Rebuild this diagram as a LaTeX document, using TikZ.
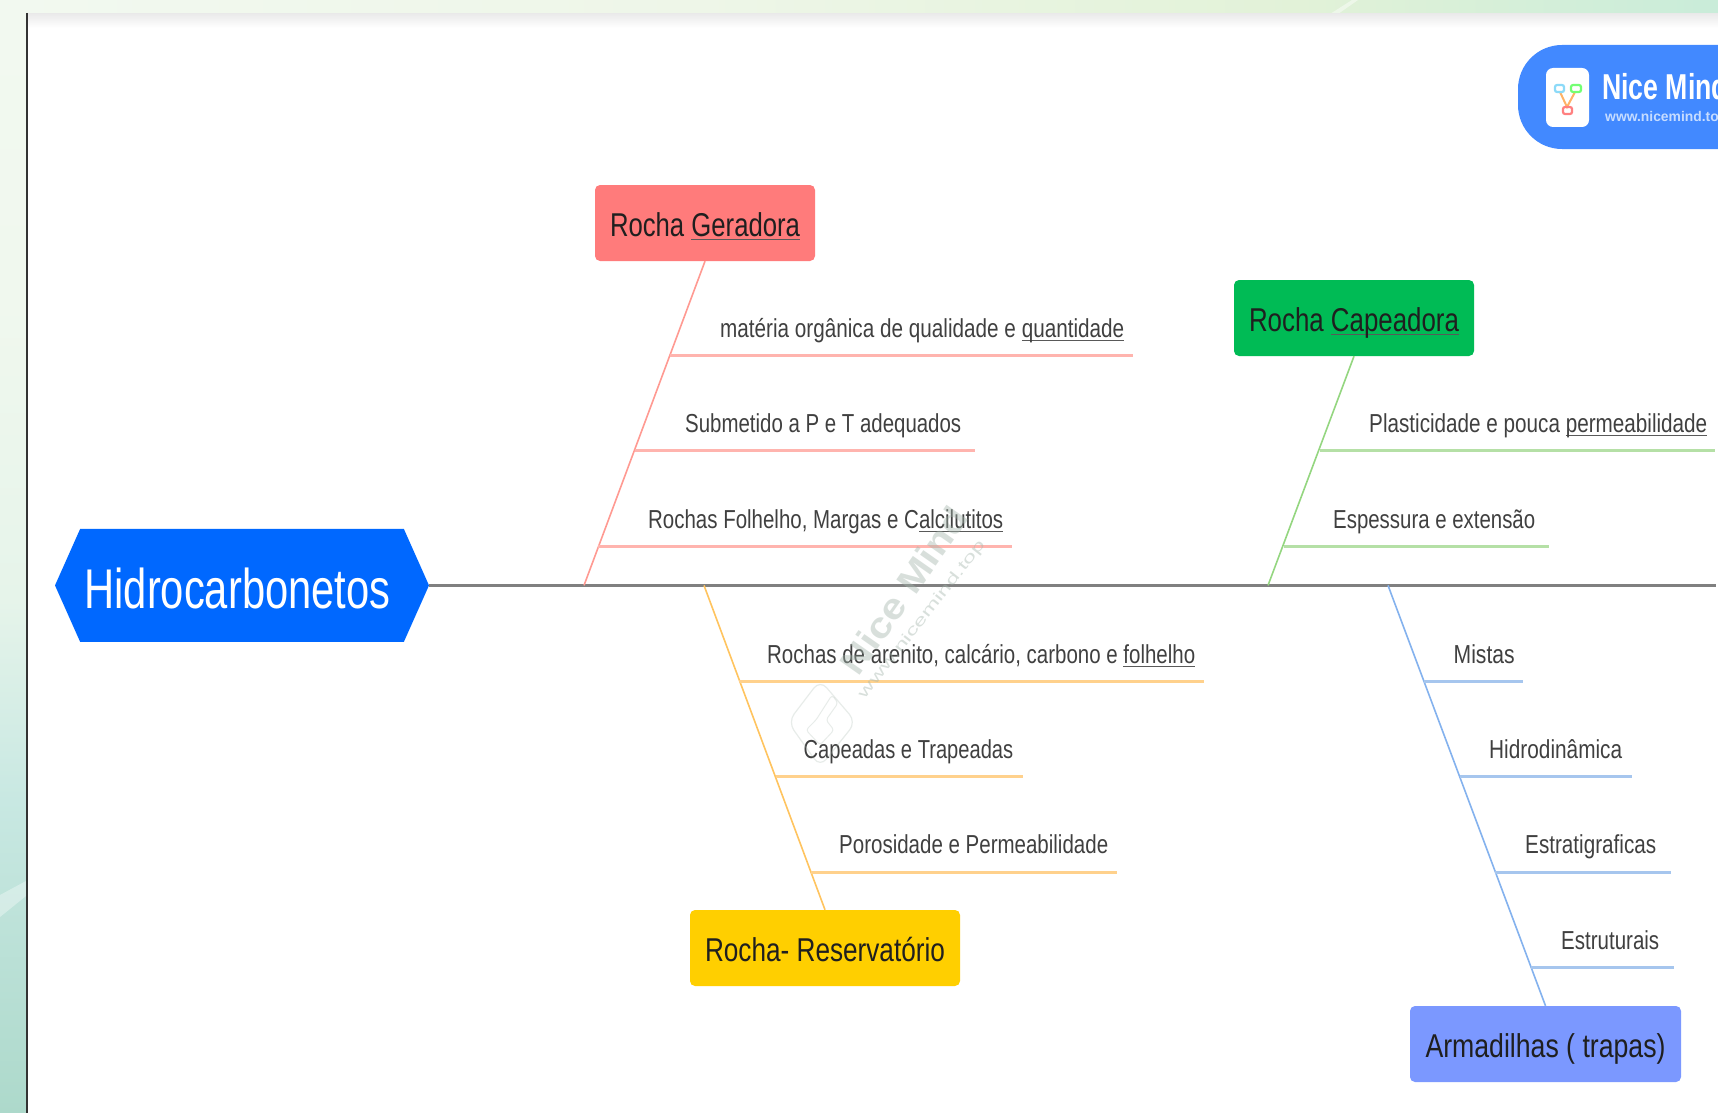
\documentclass[tikz,border=0pt]{standalone}
\usepackage{fontspec}
\usepackage{graphicx}
\usetikzlibrary{shapes.symbols}
\setmainfont{Liberation Sans}
\definecolor{spine}{HTML}{808080}
\definecolor{redbox}{HTML}{FF7B7B}\definecolor{redbr}{HTML}{FF9A92}\definecolor{redtw}{HTML}{FFB4AE}
\definecolor{grnbox}{HTML}{00BB55}\definecolor{grnbr}{HTML}{94D680}\definecolor{grntw}{HTML}{B5E0A6}
\definecolor{orgbox}{HTML}{FFCF00}\definecolor{orgbr}{HTML}{FFC45F}\definecolor{orgtw}{HTML}{FFD18C}
\definecolor{blubox}{HTML}{7B98FF}\definecolor{blubr}{HTML}{84B2EE}\definecolor{blutw}{HTML}{A6C6EE}
\definecolor{hexblue}{HTML}{0068FF}\definecolor{logoblue}{HTML}{4289FF}
\definecolor{txtgray}{HTML}{404040}\definecolor{wmark}{HTML}{A3B5AB}
\definecolor{bga}{HTML}{F2F9F0}\definecolor{bgb}{HTML}{F0F8EE}\definecolor{bgc}{HTML}{E6F4EA}
\definecolor{bgd}{HTML}{C8E8E2}\definecolor{bge}{HTML}{ADD9CB}
\definecolor{bgt}{HTML}{EEF6E8}\definecolor{bgu}{HTML}{E2F2D8}\definecolor{bgv}{HTML}{C9ECD9}
\newcommand{\fitw}[2]{\resizebox{#1pt}{\height}{#2}}
\newcommand{\spellul}[1]{\setbox0\hbox{#1}\rlap{\color{black!65}\rule[-4pt]{\wd0}{1pt}}\box0}
\tikzset{
  x=1pt,y=-1pt,
  branchbox/.style={rectangle,rounded corners=5pt,inner sep=0pt,font=\fontsize{33}{33}\selectfont,text=black!88,
     text height=51pt,text depth=25pt,minimum width=#1},
  leaf/.style={anchor=base west,inner sep=0pt,font=\fontsize{26}{26}\selectfont,text=txtgray},
  branch/.style={line width=1.6pt},
  twig/.style={line width=3pt},
}
\begin{document}
\begin{tikzpicture}
\useasboundingbox (0,0) rectangle (1718,1113);
% page background
\shade[top color=bga,bottom color=bgb] (0,0) rectangle (26,300);
\shade[top color=bgb,bottom color=bgc] (0,300) rectangle (26,600);
\shade[top color=bgc,bottom color=bgd] (0,600) rectangle (26,800);
\shade[top color=bgd,bottom color=bge] (0,800) rectangle (26,1113);
\fill[white,opacity=.35] (0,917) -- (26,896) -- (26,881) -- (0,895) -- cycle;
\shade[left color=bga,right color=bgt] (0,0) rectangle (700,14);
\shade[left color=bgt,right color=bgu] (700,0) rectangle (1300,14);
\shade[left color=bgu,right color=bgv] (1300,0) rectangle (1718,14);
\fill[white,opacity=.45] (1330,14) -- (1352,0) -- (1358,0) -- (1338,14) -- cycle;
% sheet
\fill[white] (26,14) rectangle (1718,1113);
\shade[top color=black!8,bottom color=white] (27,14) rectangle (1718,28);
\draw[black!80,line width=2pt] (26.5,13) -- (26.5,1113);
% logo
\begin{scope}
\clip (0,0) rectangle (1718,1113);
\fill[logoblue,rounded corners=44pt] (1518,45) rectangle (1800,149);
\fill[white,rounded corners=7pt] (1546,68) rectangle (1589,127);
\draw[orange!60,line width=2pt] (1560,92) -- (1567,107) -- (1575,92);
\draw[cyan!45,line width=2.2pt,rounded corners=2pt] (1555,85) rectangle (1564,92);
\draw[green!55,line width=2.2pt,rounded corners=2pt] (1571,85) rectangle (1581,92);
\draw[red!50,line width=2.2pt,rounded corners=2pt] (1563,107) rectangle (1572,114);
\node[anchor=base west,inner sep=0pt,text=white,font=\bfseries\fontsize{36}{36}\selectfont] (logotxt) at (1602,100) {\fitw{126}{Nice Mind}};
\node[anchor=base west,inner sep=0pt,text=white!70!logoblue,font=\bfseries\fontsize{14}{14}\selectfont] (logourl) at (1605,122) {\fitw{122}{www.nicemind.top}};
\end{scope}
% head
\node[signal,signal to=east and west,signal pointer angle=132,fill=hexblue,inner sep=0pt,minimum width=374pt,minimum height=113pt,
      text=white,font=\fontsize{56}{56}\selectfont,text height=80pt,text depth=33pt] (head) at (242,585.4) {\kern-9pt\fitw{306}{Hidrocarbonetos}};
\coordinate (tail) at (1716,585.4);
\draw[spine,line width=3.6pt] (head.east) -- (tail);
% branch boxes
\node[branchbox=220pt,fill=redbox] (rg) at (705,223) {\fitw{190}{Rocha \spellul{Geradora}}};
\node[branchbox=240pt,fill=grnbox] (rc) at (1354,318) {\fitw{210}{Rocha \spellul{Capeadora}}};
\node[branchbox=270pt,fill=orgbox] (rr) at (825,948) {\fitw{240}{Rocha- Reservatório}};
\node[branchbox=271pt,fill=blubox] (ar) at (1545.5,1044) {\fitw{240}{Armadilhas ( trapas)}};
% spine joints
\coordinate (jr) at (584,585.4);
\coordinate (jg) at (1268,585.4);
\coordinate (jo) at (704,585.4);
\coordinate (jb) at (1388,585.4);
\draw[branch,redbr] (rg.south) -- (jr);
\draw[branch,grnbr] (rc.south) -- (jg);
\draw[branch,orgbr] (jo) -- (rr.north);
\draw[branch,blubr] (jb) -- (ar.north);
% red leaves
\node[leaf] (r1) at (720,337) {\fitw{404}{matéria orgânica de qualidade e \spellul{quantidade}}};
\node[leaf] (r2) at (685,432) {\fitw{276}{Submetido a P e T adequados}};
\node[leaf] (r3) at (648,528) {\fitw{355}{Rochas Folhelho, Margas e C\spellul{alcilutitos}}};
\coordinate (r1a) at (670,355);\coordinate (r1b) at (1133,355);
\coordinate (r2a) at (635,450.5);\coordinate (r2b) at (975,450.5);
\coordinate (r3a) at (598,546);\coordinate (r3b) at (1011.5,546);
\draw[twig,redtw] (r1a) -- (r1b);
\draw[twig,redtw] (r2a) -- (r2b);
\draw[twig,redtw] (r3a) -- (r3b);
% green leaves
\node[leaf] (g1) at (1369,432) {\fitw{338}{Plasticidade e pouca \spellul{permeabilidade}}};
\node[leaf] (g2) at (1333,528) {\fitw{202}{Espessura e extensão}};
\coordinate (g1a) at (1320,450.5);\coordinate (g1b) at (1715,450.5);
\coordinate (g2a) at (1284,546);\coordinate (g2b) at (1549,546);
\draw[twig,grntw] (g1a) -- (g1b);
\draw[twig,grntw] (g2a) -- (g2b);
% orange leaves
\node[leaf] (o1) at (767,663) {\fitw{428}{Rochas de arenito, calcário, carbono e \spellul{folhelho}}};
\node[leaf] (o2) at (803.5,758.5) {\fitw{209.5}{Capeadas e Trapeadas}};
\node[leaf] (o3) at (839,853.5) {\fitw{269}{Porosidade e Permeabilidade}};
\coordinate (o1a) at (739,681);\coordinate (o1b) at (1204,681);
\coordinate (o2a) at (776,776.5);\coordinate (o2b) at (1022.5,776.5);
\coordinate (o3a) at (811,872);\coordinate (o3b) at (1117,872);
\draw[twig,orgtw] (o1a) -- (o1b);
\draw[twig,orgtw] (o2a) -- (o2b);
\draw[twig,orgtw] (o3a) -- (o3b);
% blue leaves
\node[leaf] (b1) at (1453.5,663) {\fitw{61}{Mistas}};
\node[leaf] (b2) at (1489,758.5) {\fitw{133}{Hidrodinâmica}};
\node[leaf] (b3) at (1525,853.5) {\fitw{131}{Estratigraficas}};
\node[leaf] (b4) at (1561,949) {\fitw{98}{Estruturais}};
\coordinate (b1a) at (1424,681);\coordinate (b1b) at (1523,681);
\coordinate (b2a) at (1460,776.5);\coordinate (b2b) at (1631.5,776.5);
\coordinate (b3a) at (1495,872);\coordinate (b3b) at (1671,872);
\coordinate (b4a) at (1531,967.5);\coordinate (b4b) at (1674,967.5);
\draw[twig,blutw] (b1a) -- (b1b);
\draw[twig,blutw] (b2a) -- (b2b);
\draw[twig,blutw] (b3a) -- (b3b);
\draw[twig,blutw] (b4a) -- (b4b);
% watermark
\begin{scope}[opacity=.42]
\node[rotate=55,font=\bfseries\fontsize{36}{36}\selectfont,text=wmark,inner sep=0pt] (wm1) at (904,590) {\fitw{195}{Nice Mind}};
\node[rotate=52,font=\fontsize{15}{15}\selectfont,text=wmark,inner sep=0pt] (wm2) at (922,620) {\fitw{196}{www.nicemind.top}};
\end{scope}
\begin{scope}[opacity=.25]
\draw[wmark,line width=1.2pt,rounded corners=10pt] (820,680) -- (856,722) -- (820,767) -- (788,722) -- cycle;
\draw[wmark,line width=1pt,rounded corners=3pt] (832,695) -- (838,703) -- (826,720) -- (834,730) -- (820,745) -- (806,730) -- (816,720) -- cycle;
\end{scope}
\end{tikzpicture}
\end{document}
